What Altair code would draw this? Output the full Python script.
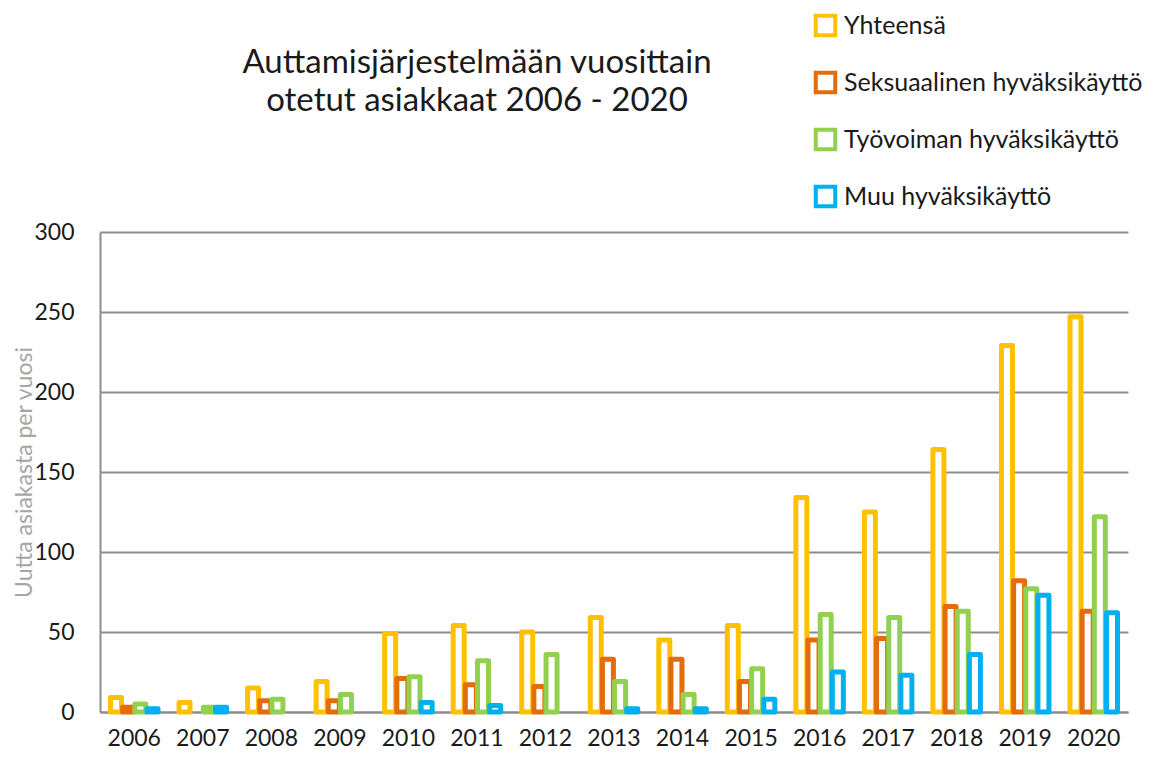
import altair as alt
import pandas as pd

years = [str(y) for y in range(2006, 2021)]
series = ["Yhteensä", "Seksuaalinen hyväksikäyttö", "Työvoiman hyväksikäyttö", "Muu hyväksikäyttö"]
colors = ["#FFC000", "#E46C0A", "#92D050", "#00B0F0"]

yhteensa = [9, 6, 15, 19, 49, 54, 50, 59, 45, 54, 134, 125, 164, 229, 247]
seksuaalinen = [3, None, 7, 7, 21, 17, 16, 33, 33, 19, 45, 46, 66, 82, 63]
tyovoima = [5, 3, 8, 11, 22, 32, 36, 19, 11, 27, 61, 59, 63, 77, 122]
muu = [2, 3, None, None, 6, 4, None, 2, 2, 8, 25, 23, 36, 73, 62]

rows = []
for name, vals in zip(series, [yhteensa, seksuaalinen, tyovoima, muu]):
    for yr, v in zip(years, vals):
        rows.append({"Vuosi": yr, "Sarja": name, "Arvo": v})
df = pd.DataFrame(rows)

FONT = "Lato"

chart = alt.Chart(df).mark_bar(
    fill="white", strokeWidth=5, strokeJoin="round", width=11
).encode(
    x=alt.X("Vuosi:N", sort=years,
            scale=alt.Scale(paddingInner=0.29, paddingOuter=0.145),
            axis=alt.Axis(title=None, labelAngle=0, labelFont=FONT, labelFontSize=23,
                          labelColor="#1a1a1a", ticks=False, labelPadding=15,
                          domainColor="#8c8c8c", domainWidth=2, grid=False)),
    xOffset=alt.XOffset("Sarja:N", sort=series,
                        scale=alt.Scale(paddingInner=0, paddingOuter=0)),
    y=alt.Y("Arvo:Q", scale=alt.Scale(domain=[0, 300], nice=False),
            axis=alt.Axis(title="Uutta asiakasta per vuosi", values=[0, 50, 100, 150, 200, 250, 300],
                          labelFont=FONT, labelFontSize=23, labelColor="#1a1a1a",
                          titleFont=FONT, titleFontSize=23, titleFontWeight="normal",
                          titleColor="#a6a6a6", titleBaseline="middle", titleX=-76,
                          ticks=False, labelPadding=26,
                          domainColor="#8c8c8c", domainWidth=2,
                          gridColor="#8c8c8c", gridWidth=2)),
    stroke=alt.Stroke("Sarja:N", sort=series,
                      scale=alt.Scale(domain=series, range=colors),
                      legend=alt.Legend(title=None, orient="none", legendX=713, legendY=-219,
                                        direction="vertical", symbolType="square",
                                        symbolSize=380, symbolStrokeWidth=4,
                                        symbolFillColor="white",
                                        labelFont=FONT, labelFontSize=25,
                                        labelColor="#1a1a1a", rowPadding=20,
                                        labelOffset=6, labelLimit=400)),
    order=alt.Order("Sarja:N"),
).properties(
    width=1028,
    height=480,
    title=alt.Title(
        text=["Auttamisjärjestelmään vuosittain", "otetut asiakkaat 2006 - 2020"],
        font=FONT, fontSize=33, fontWeight="normal", color="#1a1a1a",
        anchor="middle", frame="group", dx=-137, offset=0, dy=105, lineHeight=38,
    ),
    autosize=alt.AutoSizeParams(type="none"),
    padding={"left": 92, "top": 224, "right": 30, "bottom": 38},
).configure_view(stroke=None)

chart.save("out.html", embed_options={"renderer": "svg", "actions": False})
